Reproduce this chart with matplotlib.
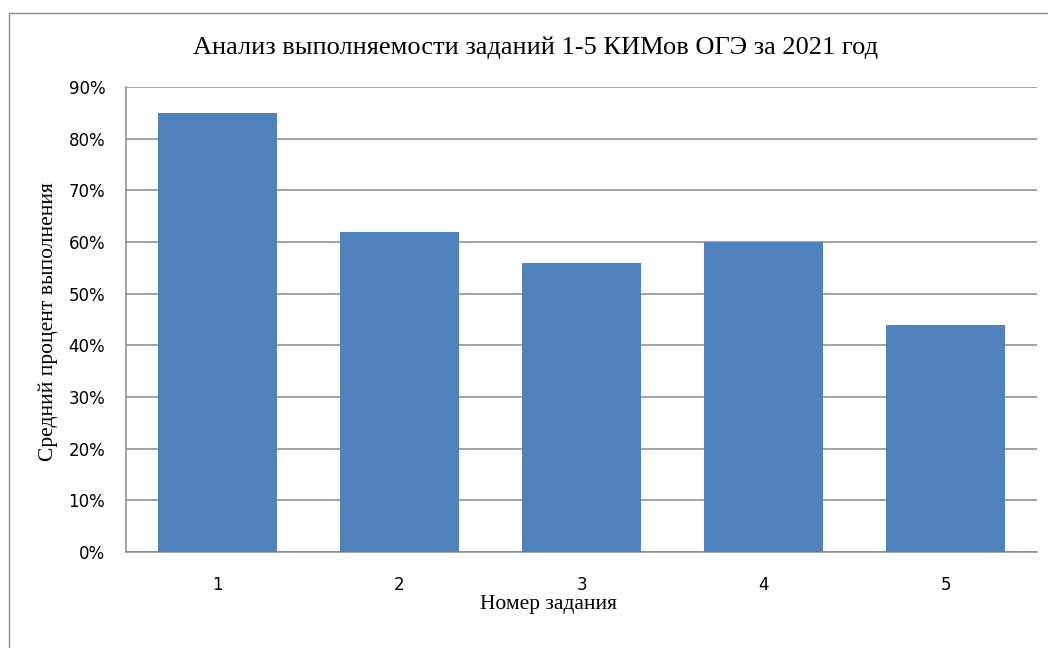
import matplotlib
matplotlib.use("Agg")
import matplotlib.pyplot as plt
from matplotlib.patches import Rectangle
from matplotlib.ticker import MultipleLocator, FuncFormatter

# Task numbers and average completion rate (%)
tasks = ["1", "2", "3", "4", "5"]
completion = [85, 62, 56, 60, 44]

title = "Анализ выполняемости заданий 1-5 КИМов ОГЭ за 2021 год"
xlabel = "Номер задания"
ylabel = "Средний процент выполнения"

W, H = 1048, 648
fig = plt.figure(figsize=(W / 100, H / 100), dpi=100)
fig.patch.set_facecolor("white")

def fx(px):
    return px / W

def fy(py):
    return 1 - py / H

# outer chart frame
fig.patches.append(Rectangle((fx(9), fy(700)), fx(1100) - fx(9), fy(13) - fy(700),
                             transform=fig.transFigure, fill=False,
                             edgecolor="#8c8c8c", linewidth=1.0, clip_on=False))

ax = fig.add_axes([fx(126), fy(552), fx(1037) - fx(126), fy(87) - fy(552)])
x = list(range(1, len(tasks) + 1))
ax.bar(x, completion, width=0.654, color="#4F81BD", zorder=3)

ax.set_xlim(0.5, len(tasks) + 0.5)
ax.set_ylim(0, 90)
ax.yaxis.set_major_locator(MultipleLocator(10))
ax.yaxis.set_major_formatter(FuncFormatter(lambda v, p: f"{int(round(v))}%"))
ax.set_xticks(x)
ax.set_xticklabels(tasks)

grid_c = "#8a8a8a"
ax.grid(axis="y", color=grid_c, linewidth=1.1, zorder=0)
for s in ["top", "right"]:
    ax.spines[s].set_visible(False)
for s in ["left", "bottom"]:
    ax.spines[s].set_color(grid_c)
    ax.spines[s].set_linewidth(1.1)
ax.tick_params(axis="both", length=0, labelsize=12, colors="black",
               labelfontfamily="DejaVu Sans")
ax.tick_params(axis="y", pad=15)
ax.tick_params(axis="x", pad=17)

serif = ["Liberation Serif", "DejaVu Serif"]
fig.text(fx(536), fy(48), title, ha="center", va="center",
         fontsize=19, family=serif)
fig.text(fx(548), fy(605), xlabel, ha="center", va="center",
         fontsize=15.5, family=serif)
fig.text(fx(48), fy(322), ylabel, ha="center", va="center", rotation=90,
         fontsize=15.5, family=serif)

fig.savefig("out.png", dpi=100, facecolor="white")
